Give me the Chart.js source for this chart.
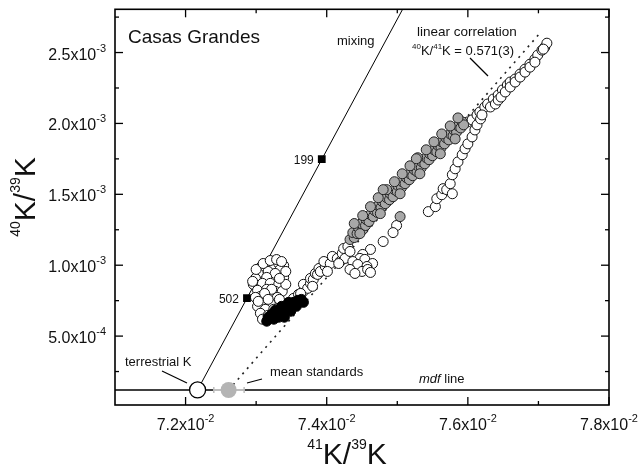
<!DOCTYPE html>
<html>
<head>
<meta charset="utf-8">
<title>Casas Grandes - 40K/39K vs 41K/39K</title>
<script src="https://cdn.jsdelivr.net/npm/chart.js@4.4.1/dist/chart.umd.min.js"></script>
<style>
  html, body { margin: 0; padding: 0; background: #fff; }
  #wrap { width: 639px; height: 466px; }
</style>
</head>
<body>
<div id="wrap"><canvas id="grafico" width="639" height="466"></canvas></div>
<script>
// Limites dos eixos
const xMin = 0.0710, xMax = 0.0780;
const yMin = 0.000014, yMax = 0.002805;

// Marcas dos eixos
const xMajorTicks = [0.072, 0.074, 0.076, 0.078];
const xMinorTicks = [0.073, 0.075, 0.077];
const xTickLabels = ['7.2x10^-2', '7.4x10^-2', '7.6x10^-2', '7.8x10^-2'];
const yMajorTicks = [0.0005, 0.0010, 0.0015, 0.0020, 0.0025];
const yMinorTicks = [0.00025, 0.00075, 0.00125, 0.00175, 0.00225, 0.00275];
const yTickLabels = ['5.0x10^-4', '1.0x10^-3', '1.5x10^-3', '2.0x10^-3', '2.5x10^-3'];

// Pontos abertos (circulos brancos)
const openX = [
  // braco esquerdo do "V"
  0.07313, 0.07323, 0.07332, 0.07339, 0.07306, 0.07317, 0.07334, 0.07303, 0.07327, 0.07299,
  0.07315, 0.07339, 0.07296, 0.07309, 0.07320, 0.07332, 0.07302, 0.07315, 0.07327, 0.07337,
  0.07306, 0.07319, 0.07330, 0.07309, 0.07320, 0.07302, 0.07313, 0.07325, 0.07306, 0.07309, 0.07317,
  0.07295, 0.07300, 0.07310, 0.07320, 0.07329, 0.07336, 0.07342, 0.07342, 0.07333, 0.07322,
  0.07312, 0.07299, 0.07317, 0.07333, 0.07303,
  // braco inferior da tendencia
  0.07353, 0.07360, 0.07367, 0.07367, 0.07373, 0.07377, 0.07377, 0.07381, 0.07384, 0.07387,
  0.07389, 0.07391, 0.07398, 0.07396, 0.07405, 0.07408, 0.07415, 0.07419, 0.07422, 0.07426, 0.07424, 0.07430,
  0.07363, 0.07380, 0.07401, 0.07417, 0.07433,
  // grupo abaixo da faixa cinza
  0.07480, 0.07499, 0.07494, 0.07462, 0.07451, 0.07447, 0.07437, 0.07454, 0.07465, 0.07444,
  0.07457, 0.07433, 0.07450, 0.07458, 0.07440, 0.07462,
  // topo da tendencia principal
  0.07600, 0.07606, 0.07613, 0.07617, 0.07624, 0.07628, 0.07636, 0.07643, 0.07649, 0.07656,
  0.07660, 0.07667, 0.07674, 0.07681, 0.07688, 0.07695, 0.07699, 0.07705, 0.07709, 0.07712,
  // segundo ramo
  0.07544, 0.07554, 0.07556, 0.07563, 0.07565, 0.07570, 0.07578, 0.07575, 0.07578, 0.07582,
  0.07586, 0.07592, 0.07596, 0.07600, 0.07606, 0.07610, 0.07613, 0.07618, 0.07620, 0.07632,
  0.07639, 0.07643, 0.07647, 0.07653, 0.07660, 0.07667, 0.07674, 0.07681, 0.07688, 0.07695, 0.07707
];
const openY = [
  0.000991, 0.001005, 0.001012, 0.000998, 0.000984, 0.000956, 0.000970, 0.000942, 0.000942, 0.000907,
  0.000914, 0.000914, 0.000865, 0.000872, 0.000872, 0.000865, 0.000823, 0.000830, 0.000816, 0.000816,
  0.000780, 0.000780, 0.000773, 0.000731, 0.000731, 0.000710, 0.000689, 0.000689, 0.000661, 0.000619, 0.000647,
  0.000886, 0.000970, 0.001012, 0.001033, 0.001040, 0.001026, 0.000956, 0.000865, 0.000907, 0.000830,
  0.000801, 0.000773, 0.000759, 0.000759, 0.000745,
  0.000766, 0.000794, 0.000816, 0.000865, 0.000837, 0.000872, 0.000907, 0.000900, 0.000942, 0.000935,
  0.000977, 0.000956, 0.000991, 0.001026, 0.001012, 0.001062, 0.001048, 0.001026, 0.001083, 0.001048, 0.001118, 0.001132,
  0.000801, 0.000851, 0.000956, 0.001012, 0.001097,
  0.001167, 0.001280, 0.001230, 0.001111, 0.001076, 0.001048, 0.001026, 0.001041, 0.001012, 0.001005,
  0.000991, 0.000970, 0.000956, 0.000970, 0.000942, 0.000949,
  0.002011, 0.002025, 0.002060, 0.002081, 0.002116, 0.002137, 0.002172, 0.002200, 0.002236, 0.002271,
  0.002292, 0.002313, 0.002348, 0.002383, 0.002418, 0.002454, 0.002482, 0.002517, 0.002538, 0.002566,
  0.001378, 0.001413, 0.001469, 0.001497, 0.001540, 0.001533, 0.001504, 0.001575, 0.001638, 0.001680,
  0.001729, 0.001779, 0.001821, 0.001856, 0.001905, 0.001954, 0.001990, 0.002032, 0.002060, 0.002116,
  0.002137, 0.002165, 0.002186, 0.002222, 0.002257, 0.002292, 0.002327, 0.002362, 0.002397, 0.002432, 0.002524
];

// Pontos cinza
const grayX = [
  0.07433, 0.07439, 0.07437, 0.07443, 0.07445, 0.07451, 0.07449, 0.07455, 0.07456, 0.07460,
  0.07462, 0.07466, 0.07468, 0.07472, 0.07473, 0.07477, 0.07479, 0.07483, 0.07485, 0.07489,
  0.07490, 0.07494, 0.07496, 0.07500, 0.07501, 0.07506, 0.07507, 0.07511, 0.07513, 0.07517,
  0.07518, 0.07522, 0.07524, 0.07528, 0.07529, 0.07534, 0.07535, 0.07539, 0.07541, 0.07545,
  0.07546, 0.07550, 0.07552, 0.07556, 0.07558, 0.07562, 0.07563, 0.07567, 0.07569, 0.07573,
  0.07575, 0.07579, 0.07580, 0.07584, 0.07586, 0.07590, 0.07592, 0.07594,
  0.07447, 0.07476, 0.07504, 0.07532, 0.07561, 0.07582,
  0.07439, 0.07451, 0.07462, 0.07473, 0.07485, 0.07496, 0.07507, 0.07518, 0.07529, 0.07541,
  0.07552, 0.07563, 0.07575, 0.07586,
  0.07480, 0.07504, 0.07527
];
const grayY = [
  0.001181, 0.001195, 0.001230, 0.001223, 0.001265, 0.001251, 0.001294, 0.001280, 0.001322, 0.001308,
  0.001357, 0.001343, 0.001385, 0.001371, 0.001420, 0.001406, 0.001448, 0.001434, 0.001476, 0.001462,
  0.001504, 0.001483, 0.001533, 0.001519, 0.001561, 0.001547, 0.001589, 0.001575, 0.001617, 0.001603,
  0.001645, 0.001631, 0.001673, 0.001659, 0.001701, 0.001687, 0.001729, 0.001715, 0.001758, 0.001744,
  0.001786, 0.001772, 0.001814, 0.001800, 0.001842, 0.001828, 0.001870, 0.001856, 0.001898, 0.001884,
  0.001926, 0.001912, 0.001954, 0.001940, 0.001983, 0.001968, 0.002011, 0.001990,
  0.001223, 0.001364, 0.001504, 0.001645, 0.001786, 0.001891,
  0.001294, 0.001350, 0.001413, 0.001476, 0.001533, 0.001589, 0.001645, 0.001701, 0.001758, 0.001814,
  0.001870, 0.001926, 0.001982, 0.002039,
  0.001533, 0.001343, 0.001751
];

// Pontos pretos (fundo do "V")
const blackX = [0.07317, 0.07325, 0.07332, 0.07322, 0.07329, 0.07336, 0.07327, 0.07334,
  0.07342, 0.07336, 0.07343, 0.07350, 0.07346, 0.07353, 0.07359, 0.07364,
  0.07315, 0.07340, 0.07349, 0.07357, 0.07367];
const blackY = [0.000633, 0.000619, 0.000633, 0.000654, 0.000654, 0.000654, 0.000682, 0.000682,
  0.000682, 0.000710, 0.000710, 0.000717, 0.000738, 0.000738, 0.000752, 0.000759,
  0.000605, 0.000633, 0.000675, 0.000710, 0.000738];

// Referencias
const terrestrialK = { x: 0.07217, y: 0.00012 };
const meanStandards = { x: 0.07261, y: 0.00012 };
const meanStdErrorX = [0.07240, 0.07283];
const samplesX = [0.07287, 0.07393];
const samplesY = [0.000768, 0.001748];
const sampleNames = ['502', '199'];
const mixingX = [0.07217, 0.07507];
const mixingY = [0.00012, 0.0028];
const correlationX = [0.07261, 0.07701];
const correlationY = [0.00012, 0.00263];
const mdfY = 0.00012;

const FONT = '"Liberation Sans", Arial, Helvetica, sans-serif';
const pts = (xs, ys) => xs.slice(0, Math.min(xs.length, ys.length)).map((x, i) => ({ x: x, y: ys[i] }));

// Texto com sobrescritos: partes = [texto, tamanho, deslocamento vertical, italico]
function drawRich(ctx, parts, x, y, align) {
  let total = 0;
  parts.forEach(p => {
    ctx.font = (p[3] ? 'italic ' : '') + p[1] + 'px ' + FONT;
    total += ctx.measureText(p[0]).width;
  });
  let cx = align === 'right' ? x - total : (align === 'center' ? x - total / 2 : x);
  ctx.textAlign = 'left';
  ctx.textBaseline = 'alphabetic';
  parts.forEach(p => {
    ctx.font = (p[3] ? 'italic ' : '') + p[1] + 'px ' + FONT;
    ctx.fillText(p[0], cx, y + p[2]);
    cx += ctx.measureText(p[0]).width;
  });
}

function tickParts(label) {
  const s = label.split('^');
  return [[s[0], 16, 0], [s[1], 11, -8]];
}

function seg(ctx, x1, y1, x2, y2) {
  ctx.beginPath();
  ctx.moveTo(x1, y1);
  ctx.lineTo(x2, y2);
  ctx.stroke();
}

// Moldura, marcas, rotulos e anotacoes
const molduraPlugin = {
  id: 'moldura',
  afterDraw(chart) {
    const ctx = chart.ctx;
    const a = chart.chartArea;
    const xs = chart.scales.x, ys = chart.scales.y;
    ctx.save();
    ctx.strokeStyle = '#000';
    ctx.fillStyle = '#111';

    ctx.lineWidth = 1.6;
    ctx.strokeRect(a.left, a.top, a.right - a.left, a.bottom - a.top);

    ctx.lineWidth = 1.3;
    xMajorTicks.forEach(v => {
      const p = xs.getPixelForValue(v);
      seg(ctx, p, a.bottom, p, a.bottom - 8);
      seg(ctx, p, a.top, p, a.top + 8);
    });
    xMinorTicks.forEach(v => {
      const p = xs.getPixelForValue(v);
      seg(ctx, p, a.bottom, p, a.bottom - 4);
      seg(ctx, p, a.top, p, a.top + 4);
    });
    yMajorTicks.forEach(v => {
      const p = ys.getPixelForValue(v);
      seg(ctx, a.left, p, a.left + 8, p);
      seg(ctx, a.right, p, a.right - 8, p);
    });
    yMinorTicks.forEach(v => {
      const p = ys.getPixelForValue(v);
      seg(ctx, a.left, p, a.left + 4, p);
      seg(ctx, a.right, p, a.right - 4, p);
    });

    // rotulos dos eixos
    xMajorTicks.forEach((v, i) => {
      drawRich(ctx, tickParts(xTickLabels[i]), xs.getPixelForValue(v), a.bottom + 25, 'center');
    });
    yMajorTicks.forEach((v, i) => {
      drawRich(ctx, tickParts(yTickLabels[i]), a.left - 9, ys.getPixelForValue(v) + 7, 'right');
    });

    // titulos
    drawRich(ctx, [['41', 14, -15], ['K/', 30, 0], ['39', 14, -15], ['K', 30, 0]], 347, 464, 'center');
    ctx.save();
    ctx.translate(35, 197);
    ctx.rotate(-Math.PI / 2);
    drawRich(ctx, [['40', 14, -15], ['K/', 30, 0], ['39', 14, -15], ['K', 30, 0]], 0, 0, 'center');
    ctx.restore();

    // anotacoes
    drawRich(ctx, [['Casas Grandes', 19, 0]], a.left + 13, 43, 'left');
    drawRich(ctx, [['mixing', 13, 0]], 337, 45, 'left');
    drawRich(ctx, [['linear correlation', 13.5, 0]], 417, 36, 'left');
    drawRich(ctx, [['40', 8, -6], ['K/', 13, 0], ['41', 8, -6], ['K = 0.571(3)', 13, 0]], 412, 55, 'left');
    ctx.lineWidth = 1.2;
    seg(ctx, 470, 58, 488, 76);

    drawRich(ctx, [['terrestrial K', 13, 0]], 125, 366, 'left');
    seg(ctx, 162, 371, 187, 383);
    drawRich(ctx, [['mean standards', 13, 0]], 270, 376, 'left');
    seg(ctx, 247, 383, 262, 379);
    drawRich(ctx, [['mdf', 13, 0, true], [' line', 13, 0]], 419, 383, 'left');

    samplesX.forEach((v, i) => {
      const px = xs.getPixelForValue(v), py = ys.getPixelForValue(samplesY[i]);
      drawRich(ctx, [[sampleNames[i], 12, 0]], px - 8, py + 5, 'right');
    });
    ctx.restore();
  }
};

const ctx = document.getElementById('grafico').getContext('2d');

new Chart(ctx, {
  type: 'scatter',
  data: {
    datasets: [
      {
        label: 'mean standards',
        data: [meanStandards],
        pointRadius: 8,
        pointBackgroundColor: '#b4b4b4',
        pointBorderWidth: 0,
        order: 0
      },
      {
        label: 'terrestrial K',
        data: [terrestrialK],
        pointRadius: 8,
        pointBackgroundColor: '#fff',
        pointBorderColor: '#000',
        pointBorderWidth: 1.3,
        order: 1
      },
      {
        label: 'samples',
        data: pts(samplesX, samplesY),
        pointStyle: 'rect',
        pointRadius: 5.5,
        pointBackgroundColor: '#000',
        pointBorderColor: '#000',
        pointBorderWidth: 0,
        order: 2
      },
      {
        label: 'black',
        data: pts(blackX, blackY),
        pointRadius: 5,
        pointBackgroundColor: '#000',
        pointBorderColor: '#000',
        pointBorderWidth: 1,
        order: 3
      },
      {
        label: 'gray',
        data: pts(grayX, grayY),
        pointRadius: 5,
        pointBackgroundColor: '#a8a8a8',
        pointBorderColor: '#222',
        pointBorderWidth: 1,
        order: 4
      },
      {
        label: 'open',
        data: pts(openX, openY),
        pointRadius: 5,
        pointBackgroundColor: '#fff',
        pointBorderColor: '#111',
        pointBorderWidth: 1,
        order: 5
      },
      {
        label: 'std error',
        data: meanStdErrorX.map(x => ({ x: x, y: meanStandards.y })),
        showLine: true,
        borderColor: '#bdbdbd',
        borderWidth: 2,
        pointStyle: 'line',
        rotation: 90,
        pointRadius: 3,
        pointBorderColor: '#bdbdbd',
        pointBorderWidth: 1.5,
        order: 6
      },
      {
        label: 'linear correlation',
        data: pts(correlationX, correlationY),
        showLine: true,
        borderColor: '#222',
        borderWidth: 1.6,
        borderDash: [2, 5],
        pointRadius: 0,
        order: 7
      },
      {
        label: 'mixing',
        data: pts(mixingX, mixingY),
        showLine: true,
        borderColor: '#000',
        borderWidth: 1,
        pointRadius: 0,
        order: 8
      },
      {
        label: 'mdf line',
        data: [{ x: xMin, y: mdfY }, { x: xMax, y: mdfY }],
        showLine: true,
        borderColor: '#000',
        borderWidth: 1.5,
        pointRadius: 0,
        order: 9
      }
    ]
  },
  options: {
    responsive: false,
    animation: false,
    devicePixelRatio: 1,
    events: [],
    layout: { padding: { left: 115, right: 30, top: 7, bottom: 61 } },
    scales: {
      x: { type: 'linear', min: xMin, max: xMax, display: false },
      y: { type: 'linear', min: yMin, max: yMax, display: false }
    },
    plugins: {
      legend: { display: false },
      tooltip: { enabled: false }
    }
  },
  plugins: [molduraPlugin]
});
</script>
</body>
</html>
